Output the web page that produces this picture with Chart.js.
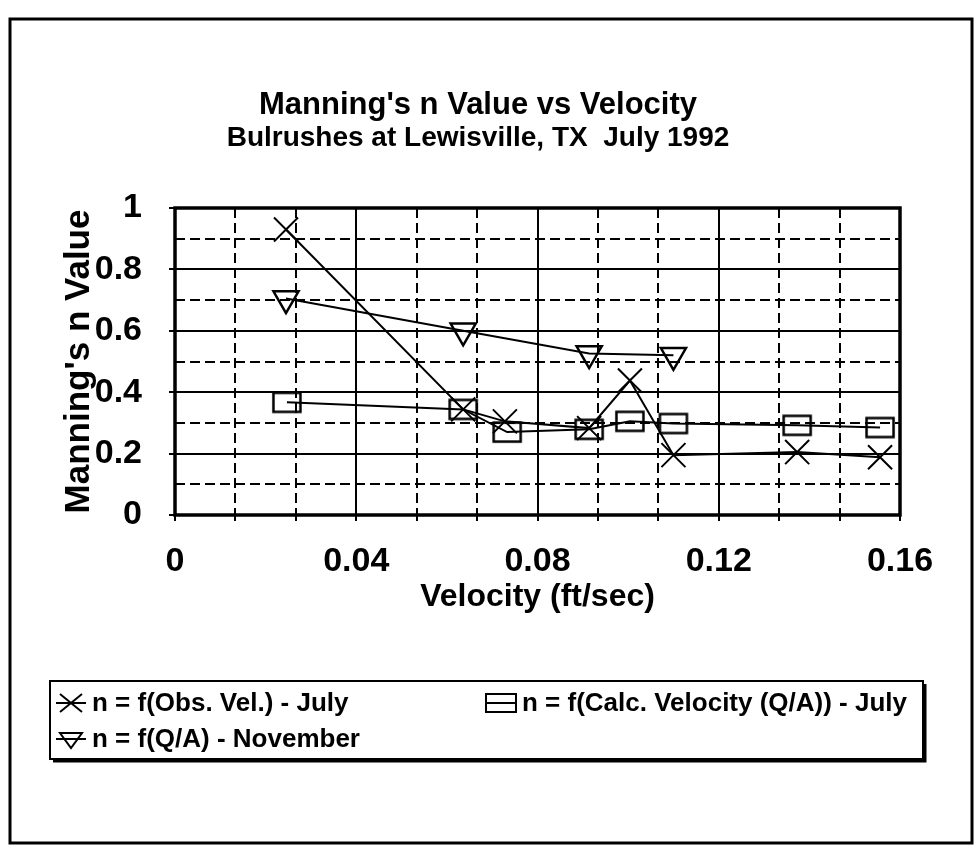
<!DOCTYPE html>
<html><head><meta charset="utf-8">
<script src="https://cdn.jsdelivr.net/npm/chart.js@4.4.1/dist/chart.umd.min.js"></script>
<style>html,body{margin:0;padding:0;background:#fff;}</style>
</head><body>
<canvas id="c" width="977" height="852"></canvas>
<script>
// ---------- data ----------
const obsVelX  = [0.0245, 0.0636, 0.0728, 0.0914, 0.1004, 0.1100, 0.1373, 0.1556];
const obsVelN  = [0.930,  0.344,  0.305,  0.283,  0.438,  0.195,  0.205,  0.188];
const calcVelX = [0.0247, 0.0636, 0.0733, 0.0914, 0.1004, 0.1100, 0.1373, 0.1556];
const calcVelN = [0.367,  0.344,  0.270,  0.279,  0.305,  0.298,  0.292,  0.285];
const novX     = [0.0245, 0.0636, 0.0914, 0.1100];
const novN     = [0.705,  0.600,  0.526,  0.520];
const seriesLabels = ['n = f(Obs. Vel.) - July', 'n = f(Calc. Velocity (Q/A)) - July', 'n = f(Q/A) - November'];
const xTickLabels = ['0', '0.04', '0.08', '0.12', '0.16'];
const yTickLabels = ['0', '0.2', '0.4', '0.6', '0.8', '1'];
const titleText = "Manning's n Value vs Velocity";
const subtitleText = 'Bulrushes at Lewisville, TX  July 1992';
const xTitle = 'Velocity (ft/sec)';
const yTitle = "Manning's n Value";

// ---------- helpers ----------
const FONT = "'Liberation Sans', Arial, sans-serif";
const xMajor = xTickLabels.map(parseFloat);
const yMajor = yTickLabels.map(parseFloat);
const xMinor = [];
for (let i = 0; i < xMajor.length - 1; i++) {
  const a = xMajor[i], b = xMajor[i + 1];
  xMinor.push(a + (b - a) / 3, a + 2 * (b - a) / 3);
}
const yMinor = [];
for (let i = 0; i < yMajor.length - 1; i++) yMinor.push((yMajor[i] + yMajor[i + 1]) / 2);
const pts = (xs, ys) => xs.map((x, i) => ({x: x, y: ys[i]}));

function rectMarker(w, h, lw) {
  const c = document.createElement('canvas');
  c.width = w + lw * 2; c.height = h + lw * 2;
  const g = c.getContext('2d');
  g.strokeStyle = '#000'; g.lineWidth = lw;
  g.strokeRect(lw, lw, w, h);
  return c;
}
const squareImg = rectMarker(27, 19, 2.5);

const frameAndBorder = {
  id: 'frameAndBorder',
  beforeDraw(chart) {
    const ctx = chart.ctx;
    ctx.save();
    ctx.fillStyle = '#fff';
    ctx.fillRect(0, 0, chart.width, chart.height);
    ctx.strokeStyle = '#000';
    ctx.lineWidth = 3;
    ctx.strokeRect(10, 19, 962, 824);
    ctx.restore();
  },
  afterDatasetsDraw(chart) {
    const a = chart.chartArea, ctx = chart.ctx;
    ctx.save();
    ctx.strokeStyle = '#000';
    ctx.lineWidth = 3.5;
    ctx.strokeRect(a.left, a.top, a.right - a.left, a.bottom - a.top);
    ctx.restore();
  }
};

const customLegend = {
  id: 'customLegend',
  afterDraw(chart) {
    const ctx = chart.ctx;
    const box = {l: 50, t: 681, r: 923, b: 759};
    ctx.save();
    ctx.strokeStyle = '#000';
    ctx.lineWidth = 2;
    ctx.strokeRect(box.l, box.t, box.r - box.l, box.b - box.t);
    ctx.lineWidth = 3;
    ctx.beginPath();
    ctx.moveTo(box.l + 3, box.b + 2); ctx.lineTo(box.r + 2, box.b + 2); ctx.lineTo(box.r + 2, box.t + 3);
    ctx.stroke();
    const items = [
      {ds: 0, sx: 71, tx: 92, y: 703},
      {ds: 1, sx: 501, tx: 522, y: 703},
      {ds: 2, sx: 71, tx: 92, y: 739}
    ];
    ctx.font = 'bold 26px ' + FONT;
    ctx.fillStyle = '#000';
    ctx.textBaseline = 'middle';
    items.forEach(it => {
      const ds = chart.data.datasets[it.ds];
      ctx.lineWidth = 2;
      ctx.beginPath(); ctx.moveTo(it.sx - 15, it.y); ctx.lineTo(it.sx + 15, it.y); ctx.stroke();
      if (ds.pointStyle === 'crossRot') {
        const r = 9;
        ctx.beginPath();
        ctx.moveTo(it.sx - r - 2, it.y - r); ctx.lineTo(it.sx + r + 2, it.y + r);
        ctx.moveTo(it.sx - r - 2, it.y + r); ctx.lineTo(it.sx + r + 2, it.y - r);
        ctx.stroke();
      } else if (ds.pointStyle === 'triangle') {
        ctx.beginPath();
        ctx.moveTo(it.sx - 11, it.y - 6); ctx.lineTo(it.sx + 11, it.y - 6); ctx.lineTo(it.sx, it.y + 9); ctx.closePath();
        ctx.stroke();
      } else {
        ctx.strokeRect(it.sx - 15, it.y - 9, 30, 18);
      }
      ctx.fillText(ds.label, it.tx, it.y + 1);
    });
    ctx.restore();
  }
};

new Chart(document.getElementById('c'), {
  type: 'line',
  data: {
    datasets: [
      {label: seriesLabels[0], data: pts(obsVelX, obsVelN), borderColor: '#000', borderWidth: 2,
       pointStyle: 'crossRot', pointRadius: 17, pointBorderWidth: 2, pointBorderColor: '#000',
       pointBackgroundColor: 'rgba(0,0,0,0)', tension: 0, fill: false},
      {label: seriesLabels[1], data: pts(calcVelX, calcVelN), borderColor: '#000', borderWidth: 2,
       pointStyle: squareImg, pointRadius: 14, tension: 0, fill: false},
      {label: seriesLabels[2], data: pts(novX, novN), borderColor: '#000', borderWidth: 2,
       pointStyle: 'triangle', pointRotation: 180, pointRadius: 14.5, pointBorderWidth: 2.5,
       pointBorderColor: '#000', pointBackgroundColor: 'rgba(0,0,0,0)', tension: 0, fill: false}
    ]
  },
  options: {
    responsive: false,
    devicePixelRatio: 1,
    animation: false,
    events: [],
    layout: {padding: {left: 56, right: 77, top: 90, bottom: 236}},
    plugins: {
      legend: {display: false},
      tooltip: {enabled: false},
      title: {display: true, text: titleText, color: '#000',
              font: {family: FONT, size: 31, weight: 'bold', lineHeight: 1}, padding: {top: 0, bottom: 3}},
      subtitle: {display: true, text: subtitleText, color: '#000',
              font: {family: FONT, size: 28, weight: 'bold', lineHeight: 1}, padding: {top: 0, bottom: 56}}
    },
    scales: {
      x: {
        type: 'linear', position: 'bottom', min: 0, max: 0.16, weight: 1,
        afterBuildTicks: s => { s.ticks = xMajor.map(v => ({value: v})); },
        afterFit: s => { s.height = 101; },
        ticks: {callback: (v, i) => xTickLabels[i], color: '#000', padding: 20, maxRotation: 0, autoSkip: false,
                font: {family: FONT, size: 34, weight: 'bold'}},
        grid: {color: '#000', lineWidth: 2, drawTicks: true, tickLength: 6, tickColor: '#000', tickWidth: 2},
        border: {display: false},
        title: {display: true, text: xTitle, color: '#000', padding: {top: 0, bottom: 0},
                font: {family: FONT, size: 32, weight: 'bold', lineHeight: 1.2}}
      },
      x2: {
        type: 'linear', position: 'bottom', min: 0, max: 0.16, weight: 0,
        afterBuildTicks: s => { s.ticks = xMinor.map(v => ({value: v})); },
        afterFit: s => { s.height = 0; },
        ticks: {display: false},
        grid: {color: '#000', lineWidth: 2, drawTicks: true, tickLength: 6, tickColor: '#000', tickWidth: 2},
        border: {display: false, dash: [10, 5]}
      },
      y: {
        type: 'linear', position: 'left', min: 0, max: 1, weight: 1,
        afterBuildTicks: s => { s.ticks = yMajor.map(v => ({value: v})); },
        afterFit: s => { s.width = 119; },
        ticks: {callback: (v, i) => yTickLabels[i], color: '#000', padding: 27, autoSkip: false,
                font: {family: FONT, size: 34, weight: 'bold'}},
        grid: {color: '#000', lineWidth: 2, drawTicks: true, tickLength: 6, tickColor: '#000', tickWidth: 2},
        border: {display: false},
        title: {display: true, text: yTitle, color: '#000', padding: {top: 2, bottom: 0},
                font: {family: FONT, size: 35, weight: 'bold', lineHeight: 1.2}}
      },
      y2: {
        type: 'linear', position: 'left', min: 0, max: 1, weight: 0,
        afterBuildTicks: s => { s.ticks = yMinor.map(v => ({value: v})); },
        afterFit: s => { s.width = 0; },
        ticks: {display: false},
        grid: {color: '#000', lineWidth: 2, drawTicks: false},
        border: {display: false, dash: [10, 5]}
      }
    }
  },
  plugins: [frameAndBorder, customLegend]
});
</script>
</body></html>
